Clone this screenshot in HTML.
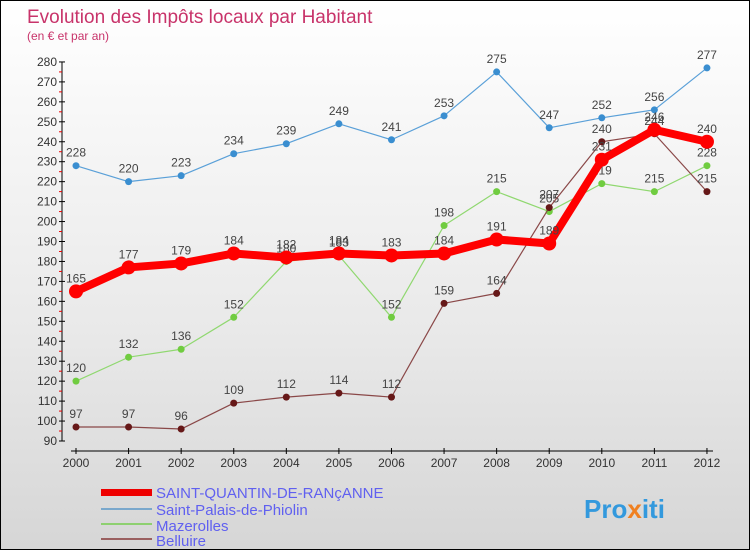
<!DOCTYPE html>
<html><head><meta charset="utf-8"><style>
body{margin:0}
#c{position:relative;width:748px;height:548px;border:1px solid #000;background:linear-gradient(#ffffff,#e9e9e9 60%,#d6d6d6);font-family:"Liberation Sans",sans-serif;overflow:hidden}
</style></head><body>
<div id="c">
<svg id="s" width="748" height="548" xmlns="http://www.w3.org/2000/svg">
<text x="26" y="22" font-size="19" fill="#c8336a">Evolution des Impôts locaux par Habitant</text>
<text x="26" y="39" font-size="12" fill="#c8336a">(en € et par an)</text>
<g id="axes"></g><g id="series"></g>
<g>
<rect x="100" y="488" width="51" height="7" fill="#e00"/>
<text x="155" y="497" font-size="15" fill="#6060f0">SAINT-QUANTIN-DE-RANçANNE</text>
<rect x="100" y="507" width="51" height="2" fill="#7aa8cc"/>
<text x="155" y="514" font-size="15" fill="#6060f0">Saint-Palais-de-Phiolin</text>
<rect x="100" y="522" width="51" height="2" fill="#8ed070"/>
<text x="155" y="530" font-size="15" fill="#6060f0">Mazerolles</text>
<rect x="100" y="537" width="51" height="2" fill="#9a6060"/>
<text x="155" y="545" font-size="15" fill="#6060f0">Belluire</text>
</g>
<text x="583" y="517" font-size="26" font-weight="bold" fill="#3399dd">Pro<tspan fill="#f08020">x</tspan>iti</text>
</svg>
<script>
const years=[2000,2001,2002,2003,2004,2005,2006,2007,2008,2009,2010,2011,2012];
const yTicks=[90,100,110,120,130,140,150,160,170,180,190,200,210,220,230,240,250,260,270,280];
const saintQuantin=[165,177,179,184,182,184,183,184,191,189,231,246,240];
const saintPalais=[228,220,223,234,239,249,241,253,275,247,252,256,277];
const mazerolles=[120,132,136,152,180,183,152,198,215,205,219,215,228];
const belluire=[97,97,96,109,112,114,112,159,164,207,240,244,215];
const NS="http://www.w3.org/2000/svg";
const xS=i=>75+i*52.58;
const yS=v=>440-(v-90)*1.995;
function mk(t,a,p){const e=document.createElementNS(NS,t);for(const k in a)e.setAttribute(k,a[k]);p.appendChild(e);return e;}
const ax=document.getElementById('axes');
const yl=mk('line',{x1:61,y1:yS(280),x2:61,y2:yS(90),stroke:'#000'},ax);


yTicks.forEach(v=>{
 mk('line',{x1:58,y1:yS(v),x2:64,y2:yS(v),stroke:'#000'},ax);
 if(v<280)mk('line',{x1:58,y1:yS(v+5),x2:61,y2:yS(v+5),stroke:'#e00'},ax);
 const t=mk('text',{x:56,y:yS(v)+4,'font-size':12,'text-anchor':'end',fill:'#333'},ax);t.textContent=v;
 
 
});
const xl=mk('line',{x1:70,y1:450,x2:712,y2:450,stroke:'#000'},ax);


years.forEach((y,i)=>{
 mk('line',{x1:xS(i),y1:447,x2:xS(i),y2:453,stroke:'#000'},ax);
 const t=mk('text',{x:xS(i),y:466,'font-size':12,'text-anchor':'middle',fill:'#333'},ax);t.textContent=y;
 
 
});
const sg=document.getElementById('series');
function draw(vals,name,col,dot,w,r){
 const g=mk('g',{},sg);
 
 
 mk('polyline',{points:vals.map((v,i)=>xS(i)+','+yS(v)).join(' '),fill:'none',stroke:col,'stroke-width':w,'stroke-linejoin':'round'},g);
 vals.forEach((v,i)=>{
  const c=mk('circle',{cx:xS(i),cy:yS(v),r:r,fill:dot},g);
  
  
  const t=mk('text',{x:xS(i),y:yS(v)-9,'font-size':12,'text-anchor':'middle',fill:'#444'},g);t.textContent=v;
  
  
 });
}
draw(saintPalais,'saint-palais','#5aa0d8','#3a8ed0',1.2,3.5);
draw(mazerolles,'mazerolles','#90d870','#70cc40',1.2,3.5);
draw(belluire,'belluire','#8a4848','#661818',1.2,3.5);
draw(saintQuantin,'saint-quantin','#f00','#f00',8,7);
</script>
</div>
</body></html>
